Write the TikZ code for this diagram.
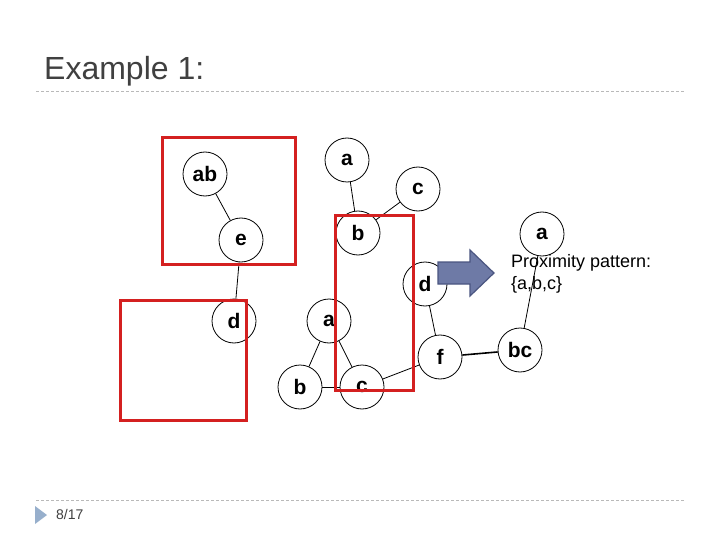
\documentclass[tikz,border=0pt]{standalone}
\usepackage{fontspec}
\setmainfont{Liberation Sans}
\definecolor{redbox}{HTML}{D42020}
\definecolor{arrowfill}{HTML}{6E7AA6}
\definecolor{arrowdraw}{HTML}{4A5580}
\definecolor{bulletblue}{HTML}{97AFCC}
\definecolor{titlegray}{HTML}{404040}
\tikzset{
  vtx/.style={circle, draw=black, line width=0.8pt, fill=white, minimum size=44pt, inner sep=0pt,
    font=\fontsize{21}{24}\selectfont\bfseries},
  edge/.style={draw=black, line width=0.8pt},
  regionbox/.style={draw=redbox, line width=3pt},
  rule/.style={draw=gray!55, line width=0.7pt, dash pattern=on 3pt off 2pt},
  label/.style={anchor=base west, inner sep=0pt, font=\fontsize{18}{22}\selectfont},
}
\begin{document}
\begin{tikzpicture}[x=1pt,y=-1pt]
\useasboundingbox (0,0) rectangle (720,540);
\fill[white] (0,0) rectangle (720,540);
% title
\node[anchor=base west, inner sep=0pt, text=titlegray, font=\fontsize{32}{36}\selectfont] (title) at (44,80) {Example 1:};
\coordinate (r1a) at (36,91);
\coordinate (r1b) at (685,91);
\draw[rule] (r1a) -- (r1b);
\coordinate (r2a) at (36,500);
\coordinate (r2b) at (685,500);
\draw[rule] (r2a) -- (r2b);
\fill[bulletblue] (35,506) -- (47,515) -- (35,524) -- cycle;
\node[anchor=base west, inner sep=0pt, text=titlegray, font=\fontsize{14}{16}\selectfont] (page) at (56,519) {8/17};
% nodes
\node[vtx] (ab) at (205,174) {ab};
\node[vtx] (e) at (241,240) {e};
\node[vtx] (a1) at (347,160) {a};
\node[vtx] (c1) at (418,189) {c};
\node[vtx] (b1) at (358,233) {b};
\node[vtx] (d1) at (234,321) {d};
\node[vtx] (a2) at (329,321) {a};
\node[vtx] (b2) at (300,387) {b};
\node[vtx] (c2) at (362,387) {c};
\node[vtx] (d2) at (425,284) {d};
\node[vtx] (f) at (440,357) {f};
\node[vtx] (a3) at (542,234) {a};
\node[vtx] (bc) at (520,350) {bc};
% edges
\draw[edge] (ab) -- (e);
\draw[edge] (e) -- (d1);
\draw[edge] (a1) -- (b1);
\draw[edge] (c1) -- (b1);
\draw[edge] (a2) -- (b2);
\draw[edge] (a2) -- (c2);
\draw[edge] (b2) -- (c2);
\draw[edge] (d2) -- (f);
\draw[edge] (f) -- (c2);
\draw[edge, line width=1.6pt] (f) -- (bc);
\draw[edge] (a3) -- (bc);
% red boxes
\draw[regionbox] (162,138) rectangle (295,264);
\draw[regionbox] (335,216) rectangle (413,390);
\draw[regionbox] (120,300) rectangle (246,420);
% arrow
\draw[fill=arrowfill, draw=arrowdraw, line width=1.2pt, line join=miter]
  (438,262) -- (470,262) -- (470,250) -- (494,273) -- (470,296) -- (470,284) -- (438,284) -- cycle;
\node[label] (prox1) at (511,267) {Proximity pattern:};
\node[label] (prox2) at (511,289) {\{a,b,c\}};
\end{tikzpicture}
\end{document}
